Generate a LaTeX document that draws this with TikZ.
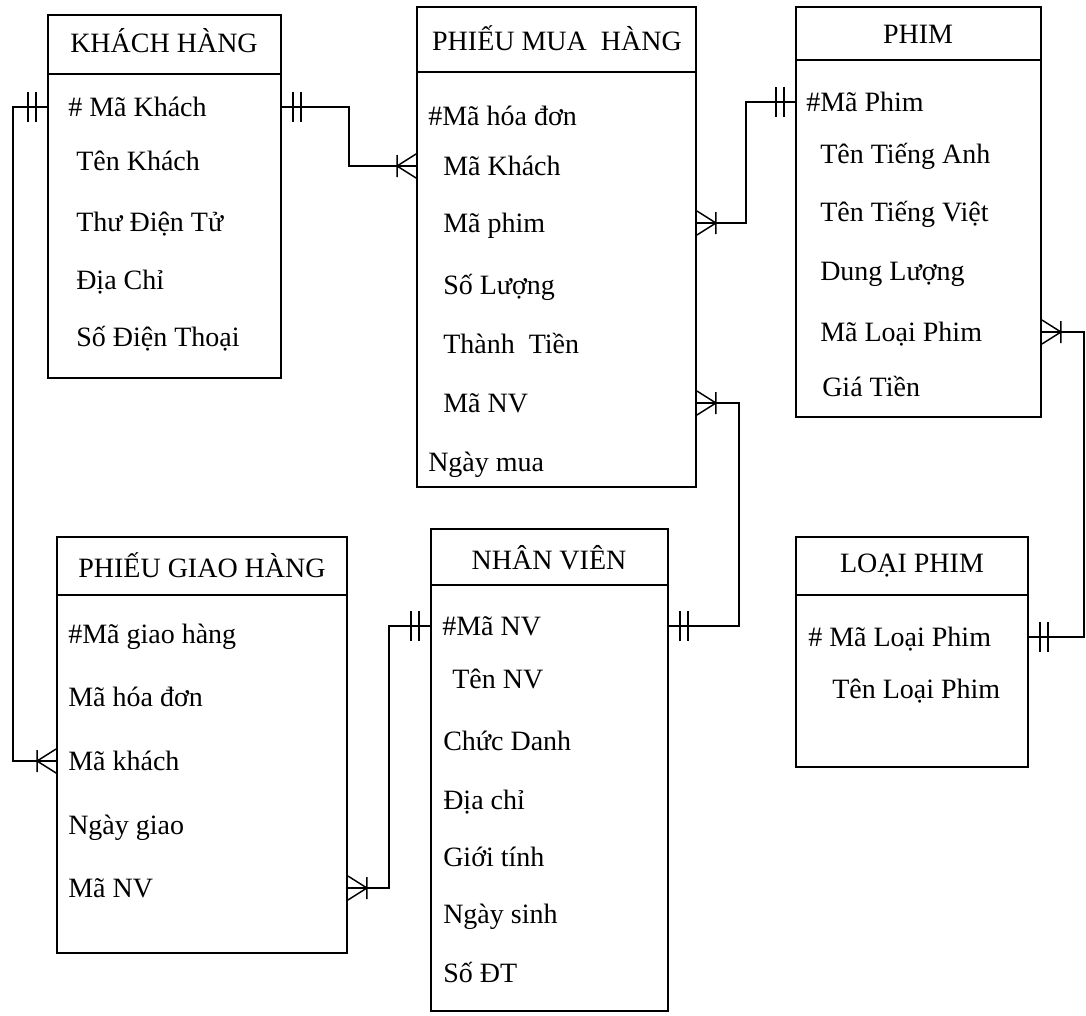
\documentclass[tikz,border=0pt]{standalone}
\usepackage{fontspec}
\setmainfont{Liberation Serif}
\usetikzlibrary{fit}

\tikzset{
  ebox/.style={draw, line width=1.4pt, inner sep=0pt},
  eline/.style={line width=1.4pt},
  etitle/.style={inner sep=0pt, font=\fontsize{21}{25}\selectfont},
  attr/.style={anchor=west, inner sep=0pt, text height=14pt, text depth=0pt, font=\fontsize{21}{25}\selectfont},
  rel/.style={line width=1.1pt},
  one/.pic={\draw[rel] (11,-15) -- (11,15) (19,-15) -- (19,15);},
  many/.pic={\draw[rel] (19,-11) -- (19,11) (0,-12) -- (19,0) -- (0,12);},
}

\begin{document}
\begin{tikzpicture}[x=0.75pt, y=-0.75pt]
    \useasboundingbox (0,0) rectangle (1086,1015);
    % entity boxes
    \node[ebox, fit={(48,15) (281,378)}] (kh) {};
    \node[ebox, fit={(417,7) (696,487)}] (pmh) {};
    \node[ebox, fit={(796,7) (1041,417)}] (phim) {};
    \node[ebox, fit={(796,537) (1028,767)}] (lp) {};
    \node[ebox, fit={(57,537) (347,953)}] (pgh) {};
    \node[ebox, fit={(431,529) (668,1011)}] (nv) {};
    \draw[eline] (kh.west |- 0,74) -- (kh.east |- 0,74);
    \draw[eline] (pmh.west |- 0,72) -- (pmh.east |- 0,72);
    \draw[eline] (phim.west |- 0,60) -- (phim.east |- 0,60);
    \draw[eline] (lp.west |- 0,595) -- (lp.east |- 0,595);
    \draw[eline] (pgh.west |- 0,595) -- (pgh.east |- 0,595);
    \draw[eline] (nv.west |- 0,585) -- (nv.east |- 0,585);

    % titles
    \node[etitle] (khT) at (164,41) {KHÁCH HÀNG};
    \node[etitle] (pmhT) at (557,38) {PHIẾU MUA\ \ HÀNG};
    \node[etitle] (phimT) at (918,34) {PHIM};
    \node[etitle] (lpT) at (912,566) {LOẠI PHIM};
    \node[etitle] (pghT) at (202,565) {PHIẾU GIAO HÀNG};
    \node[etitle] (nvT) at (549,558) {NHÂN VIÊN};

    % attributes
    \node[attr] (kh1) at (68,107) {\# Mã Khách};
    \node[attr] (kh2) at (76,161) {Tên Khách};
    \node[attr] (kh3) at (76,222) {Thư Điện Tử};
    \node[attr] (kh4) at (76,280) {Địa Chỉ};
    \node[attr] (kh5) at (76,337) {Số Điện Thoại};

    \node[attr] (pmh1) at (428,116) {\#Mã hóa đơn};
    \node[attr] (pmh2) at (443,166) {Mã Khách};
    \node[attr] (pmh3) at (443,223) {Mã phim};
    \node[attr] (pmh4) at (443,285) {Số Lượng};
    \node[attr] (pmh5) at (443,344) {Thành\ \ Tiền};
    \node[attr] (pmh6) at (443,403) {Mã NV};
    \node[attr] (pmh7) at (428,462) {Ngày mua};

    \node[attr] (phim1) at (806,102) {\#Mã Phim};
    \node[attr] (phim2) at (820,154) {Tên Tiếng Anh};
    \node[attr] (phim3) at (820,212) {Tên Tiếng Việt};
    \node[attr] (phim4) at (820,271) {Dung Lượng};
    \node[attr] (phim5) at (820,332) {Mã Loại Phim};
    \node[attr] (phim6) at (822,387) {Giá Tiền};

    \node[attr] (lp1) at (808,637) {\# Mã Loại Phim};
    \node[attr] (lp2) at (832,689) {Tên Loại Phim};

    \node[attr] (pgh1) at (68,634) {\#Mã giao hàng};
    \node[attr] (pgh2) at (68,697) {Mã hóa đơn};
    \node[attr] (pgh3) at (68,761) {Mã khách};
    \node[attr] (pgh4) at (68,825) {Ngày giao};
    \node[attr] (pgh5) at (68,888) {Mã NV};

    \node[attr] (nv1) at (442,626) {\#Mã NV};
    \node[attr] (nv2) at (452,679) {Tên NV};
    \node[attr] (nv3) at (443,741) {Chức Danh};
    \node[attr] (nv4) at (443,800) {Địa chỉ};
    \node[attr] (nv5) at (443,857) {Giới tính};
    \node[attr] (nv6) at (443,914) {Ngày sinh};
    \node[attr] (nv7) at (443,973) {Số ĐT};

    % relationship lines
    \coordinate (c1) at (349,0);
    \coordinate (c2) at (13,0);
    \coordinate (c3) at (746,0);
    \coordinate (c4) at (739,0);
    \coordinate (c5) at (1084,0);
    \coordinate (c6) at (389,0);

    \draw[rel] (kh1.west -| kh.east) -| (c1 |- pmh2.west) -- (pmh2.west -| pmh.west);
    \pic at (kh1.west -| kh.east) {one};
    \pic[rotate=180] at (pmh2.west -| pmh.west) {many};

    \draw[rel] (kh1.west -| kh.west) -| (c2 |- pgh3.west) -- (pgh3.west -| pgh.west);
    \pic[rotate=180] at (kh1.west -| kh.west) {one};
    \pic[rotate=180] at (pgh3.west -| pgh.west) {many};

    \draw[rel] (pmh3.west -| pmh.east) -| (c3 |- phim1.west) -- (phim1.west -| phim.west);
    \pic at (pmh3.west -| pmh.east) {many};
    \pic[rotate=180] at (phim1.west -| phim.west) {one};

    \draw[rel] (pmh6.west -| pmh.east) -| (c4 |- nv1.west) -- (nv1.west -| nv.east);
    \pic at (pmh6.west -| pmh.east) {many};
    \pic at (nv1.west -| nv.east) {one};

    \draw[rel] (phim5.west -| phim.east) -| (c5 |- lp1.west) -- (lp1.west -| lp.east);
    \pic at (phim5.west -| phim.east) {many};
    \pic at (lp1.west -| lp.east) {one};

    \draw[rel] (pgh5.west -| pgh.east) -| (c6 |- nv1.west) -- (nv1.west -| nv.west);
    \pic at (pgh5.west -| pgh.east) {many};
    \pic[rotate=180] at (nv1.west -| nv.west) {one};
\end{tikzpicture}
\end{document}
